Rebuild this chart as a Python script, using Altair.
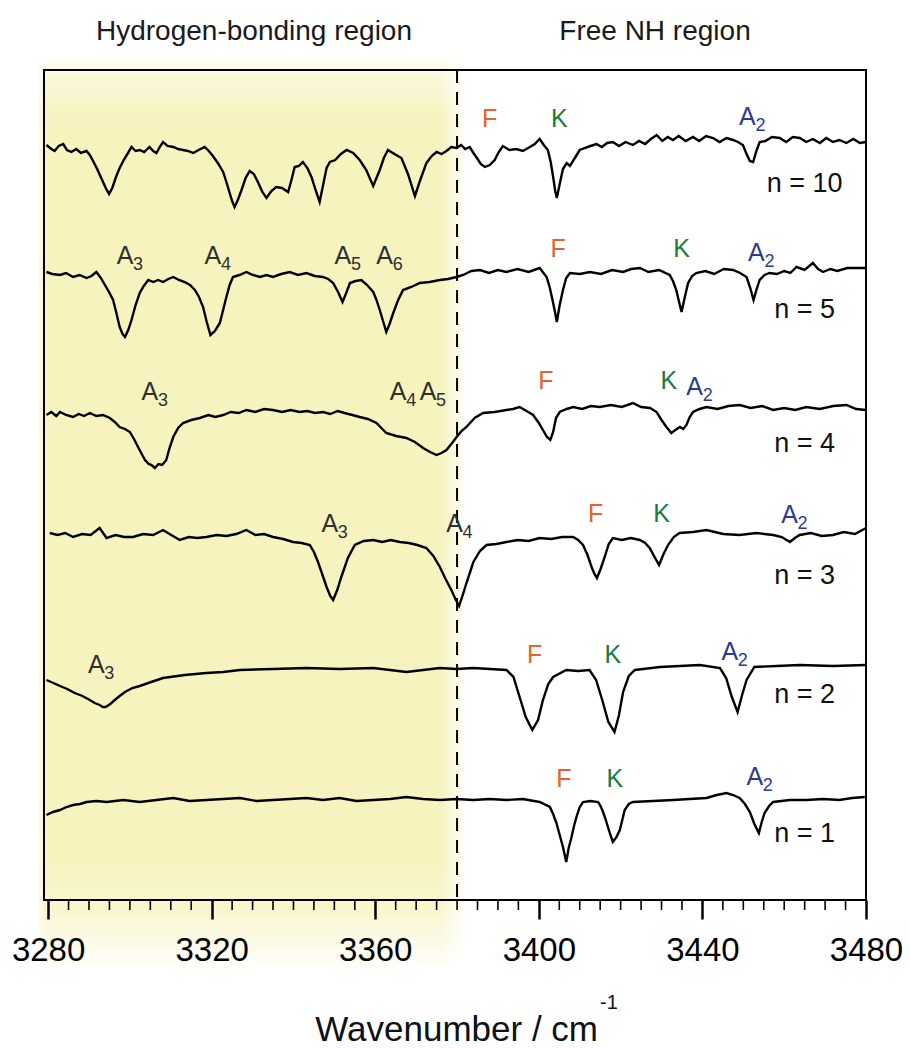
import altair as alt
import pandas as pd

# ---------------- data ----------------
# (wavenumber / cm-1, stacked signal in arbitrary units)
n10 = [(3279.6,75.5),(3280.8,75.1),(3281.6,74.9),(3282.6,75.4),(3283.7,75.6),(3284.6,75.0),(3285.7,74.8),
       (3286.9,75.1),(3288.0,74.7),(3289.4,74.9),(3290.2,74.5),(3291.0,73.9),(3292.0,73.1),(3293.1,72.1),
       (3294.1,71.2),(3294.9,70.6),(3295.7,71.2),(3296.6,72.3),(3297.5,73.2),(3298.5,74.0),(3299.4,74.6),
       (3300.4,75.3),(3301.4,74.9),(3302.4,75.0),(3303.5,74.8),(3304.8,75.3),(3305.7,74.9),(3306.5,74.7),
       (3307.3,75.3),(3308.1,75.8),(3309.2,75.4),(3310.6,75.3),(3311.8,75.1),(3313.0,75.0),(3314.2,74.9),
       (3315.5,74.7),(3316.8,75.0),(3318.3,75.3),(3319.3,74.9),(3320.3,74.4),(3321.5,73.7),(3322.8,72.8),
       (3323.6,71.8),(3324.4,70.7),(3325.0,69.9),(3325.6,69.3),(3326.4,70.0),(3327.3,71.0),(3328.3,72.2),
       (3329.3,72.9),(3330.3,72.6),(3331.3,71.8),(3332.4,70.8),(3333.4,70.2),(3334.6,70.9),(3335.8,71.3),
       (3337.2,71.2),(3338.7,70.8),(3339.5,72.0),(3340.3,73.3),(3341.3,73.4),(3342.3,73.8),(3343.4,73.2),
       (3344.4,72.3),(3345.4,71.0),(3346.4,69.8),(3347.3,71.6),(3348.1,73.2),(3348.9,73.8),(3350.2,74.0),
       (3351.6,74.6),(3353.0,75.0),(3354.6,74.7),(3356.2,74.0),(3357.8,73.0),(3359.5,71.4),(3360.3,72.2),
       (3361.1,73.0),(3362.1,74.2),(3363.1,75.0),(3364.7,74.6),(3366.4,74.2),(3368.0,72.6),(3369.7,70.4),
       (3371.0,72.0),(3372.5,73.7),(3373.8,74.4),(3375.0,74.8),(3376.2,74.6),(3377.4,74.9),(3378.6,75.3),
       (3379.9,75.2),(3381.0,75.5),(3382.0,75.1),(3383.1,75.3),(3384.0,74.7),(3384.7,74.3),(3385.8,73.6),
       (3386.8,73.3),(3388.0,73.5),(3389.2,74.0),(3390.2,74.8),(3391.2,75.4),(3392.8,75.0),(3394.5,75.1),
       (3396.1,74.9),(3397.8,75.3),(3399.0,75.6),(3400.2,76.1),(3401.2,75.5),(3402.2,75.0),(3402.9,73.8),
       (3403.5,72.3),(3404.0,70.9),(3404.4,70.2),(3405.1,71.6),(3405.9,73.1),(3406.8,73.7),(3407.6,73.4),
       (3408.8,74.2),(3410.0,75.0),(3411.2,75.2),(3412.6,75.4),(3414.1,75.6),(3415.4,75.3),(3416.7,75.7),
       (3418.1,75.8),(3419.6,75.4),(3421.2,75.8),(3423.0,75.5),(3424.5,75.9),(3426.0,75.6),(3427.4,76.1),
       (3428.8,76.5),(3430.2,75.9),(3431.5,76.3),(3432.8,76.0),(3434.2,76.4),(3435.9,75.9),(3437.7,76.3),
       (3439.2,75.9),(3440.9,76.4),(3442.6,76.2),(3444.2,75.8),(3445.9,76.2),(3447.5,76.0),(3448.7,75.8),
       (3449.9,75.5),(3450.8,74.6),(3451.6,73.9),(3452.4,73.8),(3453.2,74.9),(3454.0,75.8),(3455.4,75.9),
       (3457.0,76.3),(3458.9,76.2),(3460.5,75.8),(3462.1,76.3),(3463.8,76.2),(3465.4,75.8),(3467.0,76.1),
       (3468.7,75.7),(3470.3,76.2),(3471.9,75.8),(3473.5,76.0),(3475.2,75.7),(3476.9,76.1),(3478.5,75.7),
       (3480.0,75.8)]

n5 = [(3279.6,62.8),(3281.0,62.6),(3282.9,62.5),(3284.4,62.7),(3286.1,62.3),(3287.7,62.5),(3289.4,62.2),
      (3290.6,62.4),(3291.8,62.8),(3292.9,62.2),(3293.9,61.5),(3294.9,60.8),(3295.9,60.0),(3296.7,58.7),
      (3297.5,57.3),(3298.2,56.6),(3298.8,56.3),(3299.6,57.0),(3300.4,58.0),(3301.4,59.5),(3302.4,60.7),
      (3303.4,61.4),(3304.5,62.0),(3305.7,61.8),(3306.9,62.0),(3308.1,61.8),(3309.4,62.1),(3310.6,62.3),
      (3312.0,62.0),(3313.4,61.8),(3314.7,61.5),(3315.9,61.0),(3316.9,60.3),(3317.9,59.3),(3318.8,57.8),
      (3319.7,56.5),(3320.8,56.9),(3322.0,57.7),(3322.8,59.0),(3323.6,60.3),(3324.4,61.5),(3325.2,62.3),
      (3326.8,62.5),(3328.5,62.8),(3330.1,62.5),(3331.8,62.3),(3333.4,62.5),(3335.0,62.3),(3337.0,62.6),
      (3339.1,62.8),(3341.1,62.5),(3343.2,62.7),(3345.2,62.4),(3347.2,62.3),(3348.5,62.1),(3349.7,61.7),
      (3350.9,60.8),(3352.0,59.8),(3352.9,60.7),(3353.8,61.7),(3355.2,61.9),(3356.6,62.0),(3358.0,61.5),
      (3359.5,60.8),(3360.3,60.0),(3361.1,59.0),(3361.9,57.9),(3362.7,56.8),(3363.5,57.6),(3364.4,58.7),
      (3365.6,60.0),(3366.8,61.0),(3368.8,61.3),(3370.9,61.7),(3373.3,61.8),(3375.8,62.0),(3377.8,62.1),
      (3379.9,62.3),(3381.5,62.5),(3383.5,62.9),(3385.6,63.0),(3387.8,62.7),(3390.0,63.0),(3392.1,62.8),
      (3394.8,63.1),(3397.5,62.8),(3400.2,63.2),(3401.9,62.3),(3402.7,61.2),(3403.5,59.7),(3404.0,58.7),
      (3404.4,57.8),(3405.1,59.5),(3405.9,61.0),(3406.7,62.2),(3407.6,62.7),(3410.0,62.6),(3412.5,62.8),
      (3415.2,62.6),(3417.9,63.0),(3420.6,62.8),(3422.6,63.1),(3424.7,63.2),(3426.8,62.8),(3429.4,63.0),
      (3432.0,62.5),(3432.8,61.9),(3433.6,61.0),(3434.3,59.8),(3434.9,58.8),(3435.7,60.3),(3436.5,61.7),
      (3437.5,62.4),(3438.5,62.7),(3440.7,62.9),(3442.9,62.6),(3445.2,63.1),(3447.5,63.0),(3449.2,62.7),
      (3450.8,62.3),(3451.7,61.2),(3452.5,60.0),(3453.2,61.0),(3454.0,62.0),(3455.2,62.5),(3456.4,62.7),
      (3458.2,62.6),(3460.0,62.9),(3461.5,62.7),(3463.0,63.3),(3465.0,63.0),(3467.0,63.7),(3468.3,63.1),
      (3469.5,62.8),(3471.3,63.1),(3473.0,62.9),(3475.4,63.2),(3477.7,63.2),(3480.0,63.2)]

n4 = [(3279.6,48.5),(3280.8,48.8),(3282.0,48.4),(3282.9,48.8),(3284.4,48.5),(3286.1,48.3),(3287.5,48.6),
      (3288.8,48.4),(3290.2,48.7),(3291.8,48.4),(3293.4,48.5),(3295.1,48.2),(3296.3,47.8),(3297.5,47.3),
      (3298.8,47.1),(3300.0,46.8),(3301.0,46.1),(3302.0,45.3),(3302.9,44.6),(3303.7,44.0),(3304.6,43.6),
      (3305.3,43.5),(3306.1,43.2),(3307.0,43.6),(3307.9,43.5),(3308.9,44.0),(3309.7,45.2),(3310.6,46.3),
      (3311.8,47.2),(3313.0,47.7),(3315.0,48.0),(3317.1,48.2),(3319.2,48.5),(3320.9,48.3),(3322.8,48.5),
      (3324.7,48.8),(3326.6,48.7),(3328.5,49.0),(3330.7,48.8),(3332.8,49.1),(3335.0,49.0),(3337.2,48.8),
      (3339.3,49.0),(3341.5,48.8),(3343.4,48.9),(3345.3,48.7),(3347.2,48.8),(3349.0,48.6),(3350.8,48.9),
      (3352.5,48.7),(3354.4,48.5),(3356.2,48.3),(3358.2,48.1),(3360.3,47.7),(3361.5,47.2),(3362.7,46.7),
      (3365.1,46.4),(3367.6,46.2),(3369.7,45.8),(3371.7,45.2),(3373.4,44.8),(3375.0,44.5),(3376.2,44.7),
      (3377.4,45.0),(3378.6,45.6),(3379.9,46.3),(3381.1,46.9),(3382.3,47.3),(3384.3,48.2),(3386.4,48.7),
      (3389.2,48.8),(3392.1,49.0),(3393.7,49.1),(3395.3,49.3),(3397.0,48.9),(3398.6,48.5),(3400.0,47.7),
      (3401.0,47.0),(3402.0,46.3),(3402.8,46.0),(3403.5,46.8),(3404.2,48.2),(3405.1,48.8),(3406.8,49.1),
      (3408.4,49.3),(3410.6,49.1),(3412.7,49.4),(3414.9,49.3),(3417.6,49.5),(3420.3,49.3),(3423.0,49.7),
      (3425.0,49.3),(3427.2,49.2),(3428.8,48.8),(3430.0,48.0),(3431.2,47.3),(3432.4,46.7),(3433.4,47.0),
      (3434.5,47.3),(3435.3,47.1),(3436.1,47.5),(3436.9,48.3),(3437.7,48.8),(3439.3,49.1),(3441.0,49.3),
      (3443.7,49.1),(3446.4,49.4),(3449.1,49.5),(3451.8,49.2),(3454.6,49.4),(3457.3,49.0),(3460.0,49.2),
      (3462.7,49.0),(3465.4,49.3),(3468.7,49.1),(3472.0,49.4),(3475.2,49.5),(3477.6,49.1),(3480.0,49.0)]

n3 = [(3280.4,36.7),(3282.3,36.5),(3284.2,36.7),(3286.1,36.3),(3288.3,36.6),(3290.4,36.5),(3292.6,37.2),
      (3294.3,36.2),(3296.5,36.5),(3298.6,36.3),(3300.8,36.3),(3303.2,36.6),(3305.7,36.5),(3308.1,37.0),
      (3310.1,36.5),(3312.2,36.0),(3314.4,36.3),(3316.5,36.2),(3318.7,36.3),(3321.2,36.5),(3323.6,36.4),
      (3326.0,36.6),(3328.5,37.0),(3330.7,36.5),(3332.8,36.6),(3335.0,36.3),(3337.5,36.1),(3339.9,35.8),
      (3342.0,35.7),(3344.0,35.5),(3345.0,34.8),(3346.0,33.8),(3347.1,32.5),(3348.1,31.3),(3349.0,30.4),
      (3349.7,30.0),(3350.7,31.0),(3351.7,32.3),(3353.3,34.2),(3355.0,35.5),(3357.2,35.9),(3359.5,36.0),
      (3361.7,35.8),(3363.8,36.0),(3366.0,35.8),(3368.2,35.7),(3370.3,35.5),(3372.5,35.2),(3374.2,34.4),
      (3375.8,33.3),(3377.2,32.1),(3378.6,31.0),(3379.6,30.1),(3380.5,29.4),(3381.4,30.5),(3382.3,31.7),
      (3383.2,32.8),(3384.0,33.8),(3385.6,34.9),(3387.2,35.5),(3389.6,35.6),(3392.1,35.8),(3394.8,36.0),
      (3397.5,35.9),(3400.2,36.2),(3403.0,36.1),(3405.7,36.3),(3408.4,36.3),(3409.6,36.0),(3410.8,35.5),
      (3411.9,34.5),(3412.9,33.3),(3413.6,32.6),(3414.2,32.2),(3415.1,33.1),(3416.1,34.3),(3417.1,35.6),
      (3418.1,36.2),(3420.3,36.0),(3422.5,36.2),(3424.7,36.0),(3426.0,35.7),(3427.1,35.2),(3428.3,34.3),
      (3429.4,33.5),(3430.5,34.6),(3431.6,35.5),(3433.0,36.3),(3434.4,36.7),(3437.7,36.8),(3441.0,37.0),
      (3445.1,36.6),(3449.1,36.5),(3453.2,36.7),(3457.3,36.5),(3459.4,36.3),(3461.4,35.8),(3462.6,36.2),
      (3463.8,36.5),(3466.5,36.7),(3469.2,36.4),(3471.9,36.5),(3474.6,36.8),(3477.3,36.6),(3480.0,37.2)]

n2 = [(3279.6,22.0),(3281.3,21.7),(3282.9,21.4),(3284.7,21.1),(3286.5,20.7),(3288.4,20.4),(3290.2,20.0),
      (3291.4,19.7),(3292.6,19.5),(3293.4,19.3),(3294.1,19.3),(3295.2,19.6),(3296.3,20.0),(3297.5,20.4),
      (3298.8,20.8),(3300.6,21.2),(3302.4,21.4),(3305.2,21.8),(3308.1,22.2),(3313.4,22.5),(3318.7,22.7),
      (3322.8,22.8),(3326.9,23.0),(3335.0,23.1),(3343.2,23.2),(3351.3,23.1),(3359.5,23.2),(3363.6,23.0),
      (3367.6,22.8),(3371.7,23.0),(3375.8,23.2),(3379.9,23.1),(3383.9,23.2),(3388.0,23.1),(3392.1,23.0),
      (3393.8,22.3),(3395.3,20.3),(3396.8,18.3),(3398.4,17.0),(3399.8,18.0),(3401.0,20.0),(3402.3,21.6),
      (3403.5,22.3),(3406.7,23.0),(3409.6,22.9),(3412.4,23.0),(3414.0,22.0),(3415.5,20.0),(3417.0,17.8),
      (3418.5,16.8),(3419.6,18.5),(3420.6,20.8),(3422.0,22.4),(3423.5,23.0),(3429.6,23.3),(3434.5,23.4),
      (3439.4,23.5),(3444.3,23.2),(3445.8,22.2),(3447.2,20.3),(3448.6,18.8),(3449.7,20.5),(3450.8,22.0),
      (3452.7,23.3),(3458.2,23.4),(3463.8,23.5),(3471.9,23.4),(3480.0,23.5)]

n1 = [(3279.6,8.5),(3281.2,8.8),(3282.9,9.0),(3284.5,9.3),(3286.1,9.5),(3287.8,9.6),(3289.4,9.8),
      (3291.8,9.9),(3294.3,9.8),(3298.4,10.0),(3302.4,9.8),(3306.5,10.0),(3310.6,10.2),(3314.6,9.9),
      (3318.7,10.0),(3322.8,10.1),(3326.9,10.2),(3331.0,9.9),(3335.0,10.0),(3339.1,10.1),(3343.2,10.2),
      (3347.2,10.0),(3351.3,10.2),(3355.4,9.9),(3359.5,10.0),(3363.6,10.1),(3367.6,10.3),(3371.7,10.1),
      (3375.8,10.0),(3379.9,10.1),(3383.9,10.0),(3388.0,10.1),(3392.1,10.0),(3396.1,10.1),(3400.2,9.8),
      (3402.7,9.3),(3403.5,8.6),(3404.3,7.7),(3405.1,6.5),(3405.9,5.3),(3406.7,3.8),(3407.3,5.2),
      (3408.0,6.3),(3408.6,7.4),(3409.2,8.3),(3410.0,9.3),(3410.8,9.8),(3412.6,9.9),(3414.5,9.8),
      (3415.1,9.4),(3415.7,8.8),(3416.3,8.1),(3416.9,7.3),(3417.5,6.5),(3418.1,5.8),(3419.0,6.3),
      (3419.8,7.0),(3420.4,8.0),(3421.0,9.0),(3422.0,9.6),(3423.0,9.8),(3427.9,9.9),(3432.8,10.0),
      (3436.9,10.1),(3441.0,10.2),(3443.5,10.5),(3445.9,10.7),(3447.5,10.5),(3449.1,10.2),(3450.4,9.6),
      (3451.6,8.8),(3452.7,7.6),(3453.8,6.7),(3454.5,7.8),(3455.2,8.7),(3456.3,9.4),(3457.3,9.8),
      (3461.4,10.0),(3465.4,10.0),(3469.5,10.1),(3473.5,10.0),(3476.6,10.2),(3479.7,10.3)]

trace_names = ["n = 10", "n = 5", "n = 4", "n = 3", "n = 2", "n = 1"]
trace_data = [n10, n5, n4, n3, n2, n1]
trace_label_y = [70.8, 58.2, 44.8, 31.6, 19.7, 5.8]
trace_label_x = 3465

# peak labels: letter, subscript, position
lab_main = ["F", "K", "A",
            "A", "A", "A", "A", "F", "K", "A",
            "A", "A", "A", "F", "K", "A",
            "A", "A", "F", "K", "A",
            "A", "F", "K", "A",
            "F", "K", "A"]
lab_sub = ["", "", "2",
           "3", "4", "5", "6", "", "", "2",
           "3", "4", "5", "", "", "2",
           "3", "4", "", "", "2",
           "3", "", "", "2",
           "", "", "2"]
lab_x = [3388.0, 3405.0, 3451.0,
         3298.8, 3320.3, 3352.1, 3362.3, 3404.7, 3434.9, 3453.2,
         3304.9, 3365.6, 3372.9, 3401.7, 3431.8, 3438.1,
         3348.9, 3379.4, 3413.9, 3430.0, 3461.3,
         3291.8, 3399.0, 3418.1, 3446.7,
         3406.1, 3418.6, 3452.8]
lab_y = [77.3, 77.3, 77.5,
         63.6, 63.6, 63.6, 63.6, 64.3, 64.3, 63.9,
         50.0, 50.0, 50.0, 51.1, 51.1, 50.5,
         36.8, 36.8, 37.8, 37.8, 37.7,
         22.7, 23.7, 23.7, 24.0,
         11.3, 11.3, 11.5]

major_ticks = [3280, 3320, 3360, 3400, 3440, 3480]
minor_ticks = [v for v in range(3285, 3480, 5) if v % 40 != 0]
boundary = 3380
region_names = ["Hydrogen-bonding region", "Free NH region"]

# ---------------- tables ----------------
rows = []
for name, pts in zip(trace_names, trace_data):
    for i, (wn, s) in enumerate(pts):
        rows.append({"trace": name, "wn": wn, "signal": s, "i": i})
spec_df = pd.DataFrame(rows)

kinds = []
for m, s in zip(lab_main, lab_sub):
    kinds.append("F" if m == "F" else "K" if m == "K" else "A2" if s == "2" else "A")
lab_df = pd.DataFrame({"main": lab_main, "sub": lab_sub, "kind": kinds, "wn": lab_x, "signal": lab_y})
sub_df = lab_df[lab_df["sub"] != ""]
n_df = pd.DataFrame({"label": trace_names, "wn": [trace_label_x] * 6, "signal": trace_label_y})
minor_df = pd.DataFrame({"wn": minor_ticks})

W, H = 822, 830
FONT = "Liberation Sans, Arial, Helvetica, sans-serif"
xs = alt.Scale(domain=[3279, 3480], nice=False, zero=False)
ys = alt.Scale(domain=[0, 83], nice=False, zero=False)
xaxis = alt.Axis(values=major_ticks, tickSize=19, tickWidth=2.5, tickColor="black", domain=False,
                 grid=False, labelFont=FONT, labelFontSize=33, labelColor="black", labelPadding=15,
                 labelFlush=False, labelOverlap=False, title=None, zindex=1, format="d")
kind_color = alt.Color("kind:N", legend=None,
                       scale=alt.Scale(domain=["F", "K", "A2", "A"],
                                       range=["#E8622C", "#1B7A3C", "#2E3A8F", "#2f2f2f"]))

YEL = "#F6F3BE"
band_df = pd.DataFrame({"x0": [3277.5], "x1": [3382.0], "y0": [84.5], "y1": [-7.0]})
band = alt.Chart(band_df).mark_rect(
    color=alt.Gradient(gradient="linear", x1=0, y1=0, x2=0, y2=1,
                       stops=[alt.GradientStop(color="#FFFFFF", offset=0),
                              alt.GradientStop(color="#FAF8DA", offset=0.025),
                              alt.GradientStop(color=YEL, offset=0.07),
                              alt.GradientStop(color=YEL, offset=0.88),
                              alt.GradientStop(color="#F8F6CC", offset=0.93),
                              alt.GradientStop(color="#FCFBEA", offset=0.975),
                              alt.GradientStop(color="#FFFFFF", offset=1)])
).encode(x=alt.X("x0:Q", scale=xs, axis=xaxis), x2="x1:Q",
         y=alt.Y("y0:Q", scale=ys, axis=None), y2="y1:Q")

fade_r_df = pd.DataFrame({"x0": [3376.0], "x1": [3382.5], "y0": [85.0], "y1": [-8.0]})
fade_r = alt.Chart(fade_r_df).mark_rect(
    color=alt.Gradient(gradient="linear", x1=0, y1=0, x2=1, y2=0,
                       stops=[alt.GradientStop(color="rgba(255,255,255,0)", offset=0),
                              alt.GradientStop(color="rgba(255,255,255,1)", offset=1)])
).encode(x=alt.X("x0:Q", scale=xs, axis=xaxis), x2="x1:Q",
         y=alt.Y("y0:Q", scale=ys, axis=None), y2="y1:Q")

fade_l_df = pd.DataFrame({"x0": [3277.0], "x1": [3279.3], "y0": [85.0], "y1": [-8.0]})
fade_l = alt.Chart(fade_l_df).mark_rect(
    color=alt.Gradient(gradient="linear", x1=0, y1=0, x2=1, y2=0,
                       stops=[alt.GradientStop(color="rgba(255,255,255,1)", offset=0),
                              alt.GradientStop(color="rgba(255,255,255,0)", offset=1)])
).encode(x=alt.X("x0:Q", scale=xs, axis=xaxis), x2="x1:Q",
         y=alt.Y("y0:Q", scale=ys, axis=None), y2="y1:Q")

dash = alt.Chart(pd.DataFrame({"wn": [boundary]})).mark_rule(
    color="black", strokeWidth=2, strokeDash=[13, 9]
).encode(x=alt.X("wn:Q", scale=xs, axis=xaxis))

minor = alt.Chart(minor_df).mark_rule(color="black", strokeWidth=1.6).encode(
    x=alt.X("wn:Q", scale=xs, axis=xaxis), y=alt.value(H), y2=alt.value(H + 10))

lines = alt.Chart(spec_df).mark_line(color="black", strokeWidth=2.4).encode(
    x=alt.X("wn:Q", scale=xs, axis=xaxis),
    y=alt.Y("signal:Q", scale=ys, axis=None),
    detail="trace:N", order="i:Q")

letters = alt.Chart(lab_df).mark_text(font=FONT, fontSize=25, align="center",
                                      baseline="alphabetic").encode(
    x=alt.X("wn:Q", scale=xs, axis=xaxis), y=alt.Y("signal:Q", scale=ys, axis=None),
    text="main:N", color=kind_color)

subs = alt.Chart(sub_df).mark_text(font=FONT, fontSize=18, align="left", baseline="alphabetic",
                                   dx=8, dy=6).encode(
    x=alt.X("wn:Q", scale=xs, axis=xaxis), y=alt.Y("signal:Q", scale=ys, axis=None),
    text="sub:N", color=kind_color)

nlabels = alt.Chart(n_df).mark_text(font=FONT, fontSize=27, align="center", baseline="alphabetic",
                                    color="#111111").encode(
    x=alt.X("wn:Q", scale=xs, axis=xaxis), y=alt.Y("signal:Q", scale=ys, axis=None), text="label:N")

one = pd.DataFrame({"a": [0]})
reg1 = alt.Chart(one).mark_text(text=region_names[0], font=FONT, fontSize=28, align="center",
                                baseline="alphabetic", color="#1a1a1a").encode(
    x=alt.value(210), y=alt.value(-30))
reg2 = alt.Chart(one).mark_text(text=region_names[1], font=FONT, fontSize=28, align="center",
                                baseline="alphabetic", color="#1a1a1a").encode(
    x=alt.value(611), y=alt.value(-30))

xtitle = alt.Chart(one).mark_text(text="Wavenumber / cm", font=FONT, fontSize=35, align="right",
                                  baseline="alphabetic", color="#111111").encode(
    x=alt.value(554), y=alt.value(971))
xsup = alt.Chart(one).mark_text(text="-1", font=FONT, fontSize=20, align="left",
                                baseline="alphabetic", color="#111111").encode(
    x=alt.value(556), y=alt.value(939))

frame = alt.Chart(one).mark_rect(fillOpacity=0, stroke="black", strokeWidth=2).encode(
    x=alt.value(0), x2=alt.value(W), y=alt.value(0), y2=alt.value(H))

chart = alt.layer(band, fade_r, fade_l, dash, minor, lines, letters, subs, nlabels,
                  reg1, reg2, xtitle, xsup, frame).properties(
    width=W, height=H,
    autosize=alt.AutoSizeParams(type="none"),
    padding={"left": 44, "top": 70, "right": 44, "bottom": 148},
).configure_view(stroke=None)

chart.save("out.html", embed_options={"renderer": "svg", "actions": False})
